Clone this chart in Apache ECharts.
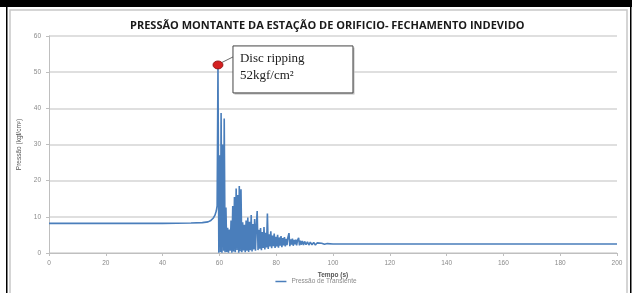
<!DOCTYPE html>
<html>
<head>
<meta charset="utf-8">
<script src="https://cdn.jsdelivr.net/npm/echarts@6/dist/echarts.min.js"></script>
<style>
  html, body { margin: 0; padding: 0; background: #fff; }
  #chart { width: 632px; height: 293px; }
</style>
</head>
<body>
<div id="chart"></div>
<script>
// tempo (s) e pressão (kgf/cm²)
const tempo = [
  0, 10, 20, 30, 40, 50, 54, 56, 57, 57.8, 58.4, 58.9, 59.2,
  59.5, 59.8, 60.1, 60.4, 60.6, 60.9, 61.2, 61.5, 61.7, 62.0,
  62.3, 62.6, 62.9, 63.2, 63.5, 63.8, 64.1, 64.4, 64.7, 65.0,
  65.3, 65.6, 65.9, 66.2, 66.5, 66.8, 67.0, 67.3, 67.6, 67.9,
  68.2, 68.5, 68.8, 69.1, 69.4, 69.7, 70.0, 70.3, 70.6, 70.9,
  71.2, 71.5, 71.8, 72.1, 72.4, 72.7, 73.0, 73.3, 73.6, 73.9,
  74.2, 74.5, 74.8, 75.1, 75.4, 75.7, 76.0, 76.3, 76.6, 76.9,
  77.2, 77.5, 77.8, 78.1, 78.4, 78.7, 79.0, 79.3, 79.6, 79.9,
  80.2, 80.5, 80.8, 81.1, 81.4, 81.7, 82.0, 82.3, 82.6, 82.9,
  83.2, 83.5, 83.8, 84.1, 84.5, 84.8, 85.1, 85.4, 85.7, 86.0,
  86.3, 86.6, 86.9, 87.2, 87.5, 87.9, 88.2, 88.5, 88.8, 89.2,
  89.6, 90.0, 90.5, 91.0, 91.5, 92.0, 92.6, 93.2, 93.8, 94.4,
  95.0, 96, 97, 98, 100, 120, 140, 160, 180, 200
];
const pressao = [
  8.2, 8.2, 8.2, 8.2, 8.2, 8.3, 8.4, 8.6, 9.0, 9.6, 10.4, 11.6, 13,
  52, 0.1, 27, 0.3, 38.7, 0.1, 30, 0.6, 37.2, 0.2,
  12.6, 0.3, 7, 0.1, 6.5, 0.6, 9, 0.1, 13, 0.4,
  15.5, 0.2, 17.8, 0.8, 16, 0.1, 18.5, 0.5, 17.6, 0.2,
  8.5, 0.7, 7.8, 0.2, 9, 0.6, 9.8, 0.3, 8.6, 0.8,
  10.5, 0.4, 8, 1.0, 9.4, 0.6, 7.5, 11.6, 0.8, 6.4,
  1.2, 6.9, 0.8, 5.8, 1.4, 7.2, 1.0, 5.6, 1.5, 10.9,
  1.1, 5.2, 1.8, 6, 1.3, 4.8, 1.9, 5.4, 1.4, 4.5,
  1.8, 5, 1.5, 4.3, 2.0, 4.7, 1.6, 4.1, 2.1, 4.4,
  1.8, 3.9, 2.2, 4.2, 5.5, 1.9, 3.8, 2.3, 4.0, 2.0,
  3.6, 2.4, 3.7, 2.1, 3.5, 4.2, 2.1, 3.4, 2.3, 3.3,
  2.2, 3.2, 2.3, 3.1, 2.2, 3.0, 2.3, 2.9, 2.2, 2.8,
  2.3, 2.7, 2.4, 2.6, 2.5, 2.5, 2.5, 2.5, 2.5, 2.5
];
const pontoRuptura = [59.5, 52];

let myChart = echarts.init(document.getElementById('chart'));
const cinza = '#8a8a8a';

myChart.setOption({
  animation: false,
  title: {
    text: 'PRESSÃO MONTANTE DA ESTAÇÃO DE ORIFICIO- FECHAMENTO INDEVIDO',
    left: 125,
    top: 15,
    textStyle: { fontFamily: 'Open Sans', fontWeight: 'bold', fontSize: 11, color: '#1a1a1a' }
  },
  grid: { left: 49, right: 15, top: 36, bottom: 40 },
  legend: {
    bottom: 3,
    left: 'center',
    icon: 'rect',
    itemWidth: 11,
    itemHeight: 1.5,
    itemGap: 3,
    textStyle: { fontFamily: 'Liberation Sans', fontSize: 6.5, color: cinza },
    data: ['Pressão de Transiente']
  },
  xAxis: {
    type: 'value',
    min: 0, max: 200, interval: 20,
    name: 'Tempo (s)',
    nameLocation: 'middle',
    nameGap: 17,
    nameTextStyle: { fontFamily: 'Liberation Sans', fontSize: 6.5, color: '#555', fontWeight: 'bold' },
    axisLine: { lineStyle: { color: '#bfbfbf', width: 1 } },
    axisTick: { show: true, length: 3, lineStyle: { color: '#bfbfbf' } },
    axisLabel: { fontFamily: 'Liberation Sans', fontSize: 6.5, color: cinza, margin: 7 },
    splitLine: { show: false }
  },
  yAxis: {
    type: 'value',
    min: 0, max: 60, interval: 10,
    name: 'Pressão (kgf/cm²)',
    nameLocation: 'middle',
    nameGap: 20,
    nameTextStyle: { fontFamily: 'Liberation Sans', fontSize: 6.5, color: '#555' },
    axisLine: { show: true, lineStyle: { color: '#bfbfbf', width: 1 } },
    axisTick: { show: true, length: 3, lineStyle: { color: '#bfbfbf' } },
    axisLabel: { fontFamily: 'Liberation Sans', fontSize: 6.5, color: cinza, margin: 8 },
    splitLine: { lineStyle: { color: '#d4d4d4', width: 1.5 } }
  },
  series: [{
    name: 'Pressão de Transiente',
    type: 'line',
    data: tempo.map((t, i) => [t, pressao[i]]),
    showSymbol: false,
    lineStyle: { color: '#4a7ebb', width: 1.6 },
    itemStyle: { color: '#4a7ebb' },
    markPoint: {
      symbol: 'circle',
      symbolSize: [10, 8],
      itemStyle: { color: '#d42020', borderColor: '#8a1010', borderWidth: 0.8 },
      label: { show: false },
      data: [{ coord: pontoRuptura }]
    }
  }]
});

// caixa de anotação + moldura
let p = myChart.convertToPixel({ seriesIndex: 0 }, pontoRuptura);
let bx = p[0] + 15, by = p[1] - 19;
myChart.setOption({
  graphic: [
    { type: 'rect', shape: { x: 0, y: 0, width: 632, height: 7 }, style: { fill: '#000' } },
    { type: 'rect', shape: { x: 6, y: 7, width: 1.5, height: 286 }, style: { fill: '#000' } },
    { type: 'rect', shape: { x: 630, y: 7, width: 1.5, height: 286 }, style: { fill: '#000' } },
    { type: 'rect', shape: { x: 10, y: 10, width: 617, height: 290 },
      style: { fill: 'none', stroke: '#c8c8c8', lineWidth: 1.5 } },
    { type: 'line', shape: { x1: p[0] + 3, y1: p[1] - 2, x2: bx, y2: by + 11 },
      style: { stroke: '#444', lineWidth: 0.8 } },
    { type: 'rect', shape: { x: bx + 1.5, y: by + 1.5, width: 120, height: 47 },
      style: { fill: '#bbb' } },
    { type: 'rect', shape: { x: bx, y: by, width: 120, height: 47 },
      style: { fill: '#fff', stroke: '#444', lineWidth: 1 } },
    { type: 'text', x: bx + 7, y: by + 6,
      style: { text: 'Disc ripping', font: '13px "Liberation Serif"', fill: '#222' } },
    { type: 'text', x: bx + 7, y: by + 23,
      style: { text: '52kgf/cm²', font: '13px "Liberation Serif"', fill: '#222' } }
  ]
});
</script>
</body>
</html>
